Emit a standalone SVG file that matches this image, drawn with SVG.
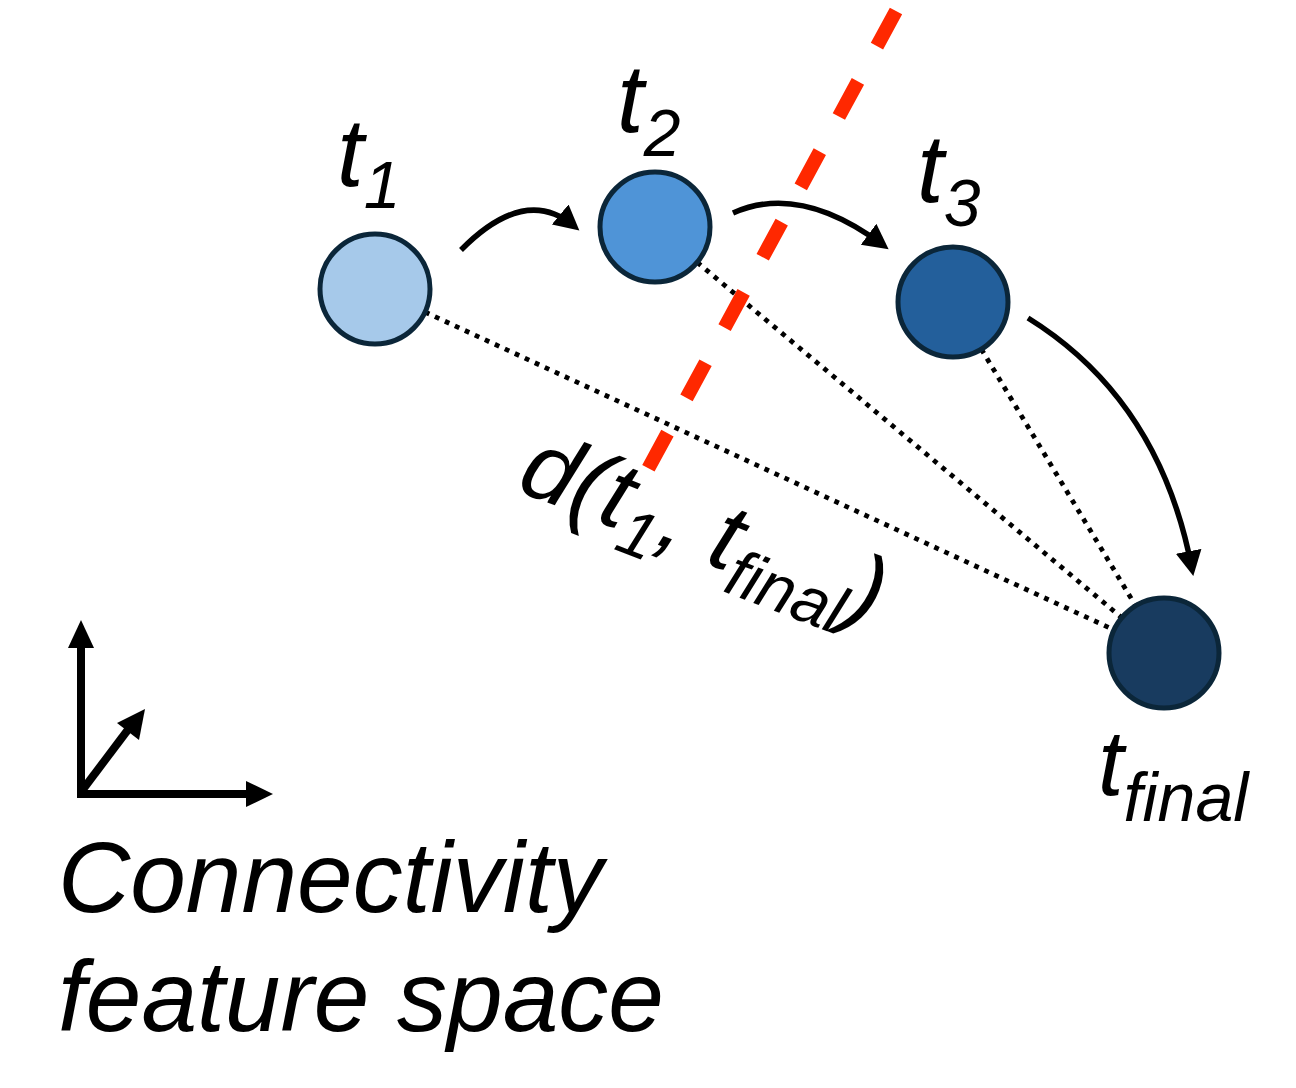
<svg xmlns="http://www.w3.org/2000/svg" width="1296" height="1088" viewBox="0 0 1296 1088">
<defs>
<style>
.lbl{font-family:"Liberation Sans",Arial,sans-serif;font-style:italic;fill:#000}
.node{stroke:#0b2639;stroke-width:5}
.dot{stroke:#000;stroke-width:4.8;stroke-dasharray:4.8 6.2;fill:none}
.arc{stroke:#000;stroke-width:5.5;fill:none;marker-end:url(#ah)}
.axis{stroke:#000;stroke-width:8;fill:none}
</style>
<marker id="ah" markerUnits="userSpaceOnUse" markerWidth="28" markerHeight="28" refX="18" refY="13" orient="auto" viewBox="0 0 28 26">
<path d="M0,0 L25,13 L0,26 Z" fill="#000"/>
</marker>
</defs>
<rect width="1296" height="1088" fill="#fff"/>
<g id="connectors">
<line class="dot" x1="375" y1="289" x2="1164" y2="653"/>
<line class="dot" x1="655" y1="227" x2="1164" y2="653"/>
<line class="dot" x1="953" y1="302" x2="1164" y2="653"/>
<path class="arc" d="M461,250 Q525,185 574,226"/>
<path class="arc" d="M733,213 Q800,183 883,245"/>
<path class="arc" d="M1028,318 Q1160,400 1192,569"/>
</g>
<g id="boundary">
<line x1="896" y1="11" x2="648" y2="469" stroke="#ff2800" stroke-width="14" stroke-dasharray="40 40"/>
</g>
<g id="node-t1">
<circle class="node" cx="375" cy="289" r="55" fill="#a6c9ea"/>
<text class="lbl" x="337" y="186" font-size="96">t<tspan font-size="66" dy="22">1</tspan></text>
</g>
<g id="node-t2">
<circle class="node" cx="655" cy="227" r="55" fill="#4f94d7"/>
<text class="lbl" x="617" y="132" font-size="96">t<tspan font-size="66" dy="24">2</tspan></text>
</g>
<g id="node-t3">
<circle class="node" cx="953" cy="302" r="55" fill="#235f9b"/>
<text class="lbl" x="917" y="202" font-size="96">t<tspan font-size="66" dy="24">3</tspan></text>
</g>
<g id="node-tfinal">
<circle class="node" cx="1164" cy="653" r="55" fill="#183b5f"/>
<text class="lbl" x="1098" y="795" font-size="92">t<tspan font-size="68" dy="26">final</tspan></text>
</g>
<g id="distance-label">
<text class="lbl" font-size="96" transform="translate(515,490) rotate(21)">d(t<tspan font-size="66" dy="20">1</tspan><tspan dy="-20">, t</tspan><tspan font-size="66" dy="20">final</tspan><tspan dy="-20">)</tspan></text>
</g>
<g id="axes">
<path class="axis" d="M81,798 L81,642"/>
<polygon points="81,620 68,648 94,648" fill="#000"/>
<path class="axis" d="M77,794 L250,794"/>
<polygon points="273,794 246,781 246,807" fill="#000"/>
<path class="axis" d="M81,792 L130,727"/>
<polygon points="145,709 117,723 139,740" fill="#000"/>
</g>
<g id="caption">
<text class="lbl" x="58" y="912" font-size="100">Connectivity</text>
<text class="lbl" x="58" y="1031" font-size="100">feature space</text>
</g>
</svg>
